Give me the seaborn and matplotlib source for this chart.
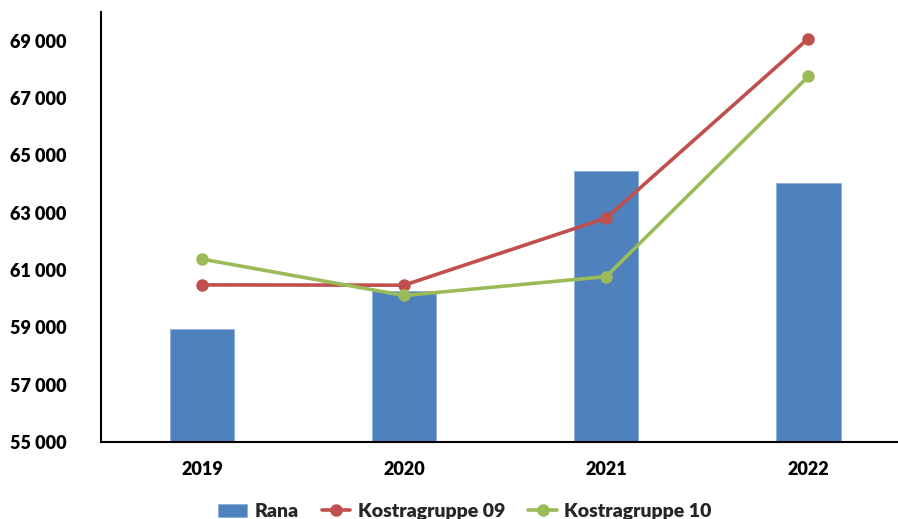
import matplotlib
matplotlib.use("Agg")
import matplotlib.pyplot as plt
import seaborn as sns
import pandas as pd
from matplotlib.ticker import FuncFormatter

years = ["2019", "2020", "2021", "2022"]
rana = [58950, 60250, 64470, 64030]
kostra09 = [60480, 60470, 62810, 69070]
kostra10 = [61380, 60110, 60770, 67750]

sns.set_theme(style="white")
plt.rcParams['font.family'] = ['Lato', 'DejaVu Sans']

fig = plt.figure(figsize=(8.98, 5.19), dpi=100)
ax = fig.add_axes([0.1125, 0.1484, 0.9, 0.8285])

df_bar = pd.DataFrame({"year": years, "value": rana})
sns.barplot(data=df_bar, x="year", y="value", color="#4F81BD", width=0.32,
            ax=ax, label="Rana", saturation=1)
for p in ax.patches:
    p.set_edgecolor("#8DB0DA")
    p.set_linewidth(0.6)

x = list(range(len(years)))
sns.lineplot(x=x, y=kostra09, ax=ax, color="#C0504D", linewidth=2.6,
             marker="o", markersize=9, markeredgewidth=0, label="Kostragruppe 09")
sns.lineplot(x=x, y=kostra10, ax=ax, color="#9BBB59", linewidth=2.6,
             marker="o", markersize=9, markeredgewidth=0, label="Kostragruppe 10")

ax.set_ylim(55000, 70000)
ax.set_xlim(-0.5, 3.5)
ax.set_yticks(range(55000, 70000, 2000))
ax.yaxis.set_major_formatter(FuncFormatter(lambda v, p: f"{int(v):,}".replace(",", " ")))
ax.set_xticks(x)
ax.set_xticklabels(years)
ax.set_xlabel("")
ax.set_ylabel("")
ax.tick_params(axis="both", length=0, labelsize=13, colors="black")
ax.tick_params(axis="y", pad=25)
ax.tick_params(axis="x", pad=14)
for lab in ax.get_xticklabels() + ax.get_yticklabels():
    lab.set_fontweight("heavy")
for s in ["top", "right"]:
    ax.spines[s].set_visible(False)
for s in ["left", "bottom"]:
    ax.spines[s].set_color("black")
    ax.spines[s].set_linewidth(1.5)

handles, labels = ax.get_legend_handles_labels()
order = [labels.index("Rana"), labels.index("Kostragruppe 09"), labels.index("Kostragruppe 10")]
if ax.legend_:
    ax.legend_.remove()
leg = fig.legend([handles[i] for i in order], [labels[i] for i in order],
                 loc="lower center", bbox_to_anchor=(0.518, -0.036),
                 ncol=3, frameon=False, prop={"weight": "heavy", "size": 14},
                 handlelength=1.45, handleheight=0.7, handletextpad=0.4, columnspacing=1.2)

fig.savefig("out.png", dpi=100)
